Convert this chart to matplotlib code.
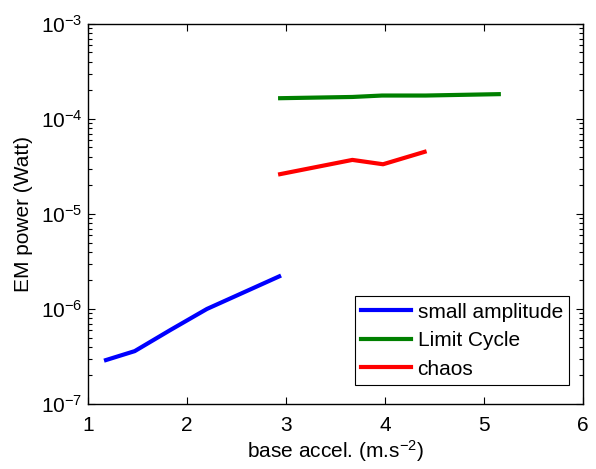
import matplotlib
matplotlib.use("Agg")
import matplotlib.pyplot as plt
from matplotlib.ticker import FixedLocator, FuncFormatter, LogLocator, NullFormatter
import numpy as np

plt.rcParams['font.family'] = ['Liberation Sans', 'DejaVu Sans']
plt.rcParams['mathtext.default'] = 'regular'

# Harvested EM power versus base acceleration for the three response regimes
small_x = [1.18, 1.47, 1.83, 2.20, 2.93]
small_y = [2.9e-7, 3.6e-7, 6.0e-7, 1.0e-6, 2.2e-6]

limit_x = [2.94, 3.67, 3.97, 4.41, 5.15]
limit_y = [1.65e-4, 1.70e-4, 1.76e-4, 1.76e-4, 1.82e-4]

chaos_x = [2.94, 3.67, 3.98, 4.40]
chaos_y = [2.62e-5, 3.7e-5, 3.33e-5, 4.5e-5]

x_ticks = [1, 2, 3, 4, 5, 6]
y_ticks = [1e-7, 1e-6, 1e-5, 1e-4, 1e-3]

FS = 15

fig = plt.figure(figsize=(5.96, 4.69), dpi=100)
ax = fig.add_axes([0.148, 0.1386, 0.830, 0.8106])

lw = 3.0
ax.plot(small_x, small_y, color='#0000ff', lw=lw, label='small amplitude')
ax.plot(limit_x, limit_y, color='#008000', lw=lw, label='Limit Cycle')
ax.plot(chaos_x, chaos_y, color='#ff0000', lw=lw, label='chaos')

ax.set_yscale('log')
ax.set_xlim(1, 6)
ax.set_ylim(1e-7, 1e-3)
ax.xaxis.set_major_locator(FixedLocator(x_ticks))
ax.yaxis.set_major_locator(FixedLocator(y_ticks))
ax.yaxis.set_minor_locator(LogLocator(base=10, subs=np.arange(2, 10)))
ax.yaxis.set_minor_formatter(NullFormatter())
ax.yaxis.set_major_formatter(FuncFormatter(lambda v, p: r'$10^{%d}$' % round(np.log10(v))))

ax.tick_params(which='both', direction='in', top=True, right=True, labelsize=FS, width=0.8, colors='black')
ax.tick_params(which='major', length=5)
ax.tick_params(axis='x', which='major', pad=9)
ax.tick_params(axis='y', which='major', pad=4)
ax.tick_params(which='minor', length=3)
for s in ax.spines.values():
    s.set_linewidth(1.0)

ax.set_xlabel(r'base accel. (m.s$^{-2}$)', fontsize=FS, labelpad=2)
ax.set_ylabel('EM power (Watt)', fontsize=FS, labelpad=6)

leg = ax.legend(loc='lower right', fontsize=FS, frameon=True, fancybox=False,
                edgecolor='black', framealpha=1, borderpad=0.3, labelspacing=0.46,
                handlelength=2.4, handletextpad=0.3, borderaxespad=0.0,
                bbox_to_anchor=(0.972, 0.05))
leg.get_frame().set_linewidth(0.8)

fig.savefig('out.png', dpi=100)
